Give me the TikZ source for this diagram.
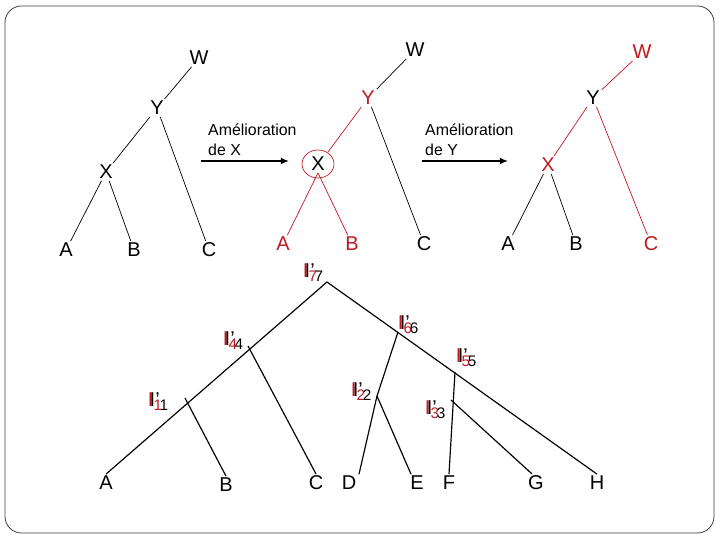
\documentclass[tikz,border=0pt]{standalone}
\usepackage{fontspec}
\setmainfont{Liberation Sans}
\usetikzlibrary{calc,arrows.meta}
\definecolor{treered}{RGB}{190,25,35}
\tikzset{
  lab/.style={inner sep=1.5pt, font=\fontsize{17}{19}\selectfont},
  txt/.style={inner sep=0pt, anchor=west, align=left, font=\fontsize{13.5}{17}\selectfont},
  edge/.style={line width=0.6pt},
  redge/.style={line width=0.6pt, treered},
  move/.style={line width=1.3pt, -{Latex[length=7pt,width=6pt]}}
}
\def\sub#1{\raisebox{-3.5pt}{\fontsize{13}{15}\selectfont #1}}
% black and red internal label drawn on top of each other
\def\ilabel(#1)#2{%
  \node[lab] (i#2) at ($(#1)+(2,0)$) {I'\sub{#2}};
  \node[lab, treered] (i#2r) at ($(#1)+(-2,0)$) {I\sub{#2}};}

\begin{document}
\begin{tikzpicture}[x=0.85pt, y=-0.85pt]
		%%%%% START %%%%%
		\useasboundingbox (0,0) rectangle (720,540);
		\draw[line width=0.7pt, black!75, rounded corners=14pt] (5,6) rectangle (714,533);
		
		% first tree
		\node[lab] (w1) at (199,58) {W};
		\node[lab] (y1) at (157,108) {Y};
		\node[lab] (x1) at (106,172) {X};
		\node[lab] (a1) at (66,250) {A};
		\node[lab] (b1) at (134,250) {B};
		\node[lab] (c1) at (209,250) {C};
		\draw[edge] (w1) -- (y1);
		\draw[edge] (y1) -- (x1);
		\draw[edge] (x1) -- (a1);
		\draw[edge] (x1) -- (b1);
		\draw[edge] (y1) -- (c1);
		
		\node[txt] (t1) at (208,140) {Amélioration\\de X};
		\coordinate (p1) at (201,161);
		\coordinate (q1) at (289,161);
		\draw[move] (p1) -- (q1);
		
		% second tree
		\node[lab] (w2) at (415,50) {W};
		\node[lab, treered] (y2) at (368,98) {Y};
		\node[lab] (x2) at (318,164) {X};
		\node[lab, treered] (a2) at (283,244) {A};
		\node[lab, treered] (b2) at (352,244) {B};
		\node[lab] (c2) at (424,244) {C};
		\draw[treered, line width=0.6pt] (x2) ellipse (16 and 14);
		\draw[edge] (w2) -- (y2);
		\draw[redge] (y2) -- ($(x2)+(10,-12)$);
		\draw[redge] (x2.south) -- (a2);
		\draw[redge] (x2.south) -- (b2);
		\draw[edge] (y2) -- (c2);
		
		\node[txt] (t2) at (425,140) {Amélioration\\de Y};
		\coordinate (p2) at (422,161);
		\coordinate (q2) at (508,161);
		\draw[move] (p2) -- (q2);
		
		% third tree
		\node[lab, treered] (w3) at (642,52) {W};
		\node[lab] (y3) at (593,98) {Y};
		\node[lab, treered] (x3) at (548,165) {X};
		\node[lab] (a3) at (508,244) {A};
		\node[lab] (b3) at (576,244) {B};
		\node[lab, treered] (c3) at (651,244) {C};
		\draw[redge] (w3) -- (y3);
		\draw[redge] (y3) -- (x3);
		\draw[edge] (x3) -- (a3);
		\draw[edge] (x3) -- (b3);
		\draw[redge] (y3) -- (c3);
		
		% bottom tree
		\node[lab] (la) at (106,483) {A};
		\node[lab] (lb) at (226,485) {B};
		\node[lab] (lc) at (316,483) {C};
		\node[lab] (ld) at (349,483) {D};
		\node[lab] (le) at (417,483) {E};
		\node[lab] (lf) at (449,483) {F};
		\node[lab] (lg) at (536,483) {G};
		\node[lab] (lh) at (597,483) {H};
		
		\coordinate (r7) at (327,282);
		\coordinate (r4) at (248,346);
		\coordinate (r1) at (185,398);
		\coordinate (r6) at (398,332);
		\coordinate (r2) at (377,396);
		\coordinate (r5) at (455,372);
		\coordinate (r3) at (451,400);
		
		\draw[line width=1pt] (la.north) -- (r7) -- (lh.north);
		\draw[line width=1pt] (r4) -- (lc.north);
		\draw[line width=1pt] (r1) -- (lb.north);
		\draw[line width=1pt] (r6) -- (r2) -- ($(ld.north)+(10,0)$);
		\draw[line width=1pt] (r2) -- ($(le.north)+(-6,0)$);
		\draw[line width=1pt] (r5) -- (lf.north);
		\draw[line width=1pt] (r3) -- ($(lg.north)+(-4,0)$);
		
		\ilabel(312,273){7}
		\ilabel(407,325){6}
		\ilabel(232,341){4}
		\ilabel(465,358){5}
		\ilabel(360,392){2}
		\ilabel(157,402){1}
		\ilabel(434,410){3}
		%%%%% END %%%%%
	\end{tikzpicture}
\end{document}
